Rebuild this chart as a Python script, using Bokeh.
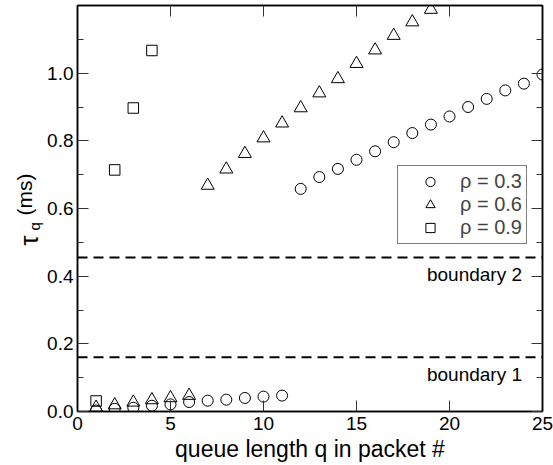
import math
from bokeh.plotting import figure
from bokeh.layouts import row
from bokeh.models import Range1d, LinearAxis, FixedTicker, Span, Label, Legend, LegendItem
from bokeh.embed import file_html
from bokeh.resources import INLINE

# ---------------- data ----------------
q_rho03 = list(range(1, 26))
tau_rho03 = [0.003, 0.008, 0.011, 0.017, 0.021, 0.028, 0.032, 0.035, 0.040, 0.044, 0.047,
             0.658, 0.693, 0.717, 0.744, 0.769, 0.796, 0.823, 0.848, 0.872, 0.900,
             0.924, 0.949, 0.969, 0.996]
q_rho06 = list(range(1, 20))
tau_rho06 = [0.012, 0.019, 0.027, 0.034, 0.040, 0.047,
             0.668, 0.716, 0.762, 0.808, 0.852, 0.897, 0.941, 0.983, 1.028,
             1.068, 1.111, 1.151, 1.188]
q_rho09 = [1, 2, 3, 4]
tau_rho09 = [0.031, 0.714, 0.897, 1.067]

series_labels = ["\u03c1 = 0.3", "\u03c1 = 0.6", "\u03c1 = 0.9"]
boundaries = [0.16, 0.455]
boundary_labels = ["boundary 1", "boundary 2"]

x_ticks = [0, 5, 10, 15, 20, 25]
y_ticks = [0.0, 0.2, 0.4, 0.6, 0.8, 1.0]
y_minor_ticks = [0.1, 0.3, 0.5, 0.7, 0.9, 1.1]

x_title = "queue length q in packet #"

FONT = "Liberation Sans"

# ---------------- main figure ----------------
p = figure(width=509, height=465, output_backend="svg", toolbar_location=None,
           x_range=Range1d(0, 25), y_range=Range1d(0, 1.2),
           min_border_left=33, min_border_right=11, min_border_top=5, min_border_bottom=54,
           background_fill_color="white", border_fill_color="white")
p.grid.visible = False
p.outline_line_color = "black"
p.outline_line_width = 1.5

def style_axis(ax, ticks, minor, show_labels):
    ax.ticker = FixedTicker(ticks=ticks, minor_ticks=minor)
    ax.axis_line_color = "black"
    ax.axis_line_width = 1.5
    ax.major_tick_in = 11
    ax.major_tick_out = 0
    ax.minor_tick_in = 6
    ax.minor_tick_out = 0
    ax.major_tick_line_color = "#333333"
    ax.minor_tick_line_color = "#333333"
    ax.major_tick_line_width = 1
    ax.minor_tick_line_width = 1
    if show_labels:
        ax.major_label_text_font = FONT
        ax.major_label_text_font_size = "19px"
        ax.major_label_text_color = "black"
        ax.major_label_standoff = 4
    else:
        ax.major_label_text_font_size = "1px"
        ax.major_label_text_alpha = 0
        ax.major_label_standoff = 0

style_axis(p.xaxis[0], x_ticks, [], True)
style_axis(p.yaxis[0], y_ticks, y_minor_ticks, True)
p.xaxis[0].major_label_standoff = 5
p.yaxis[0].major_label_overrides = {t: f"{t:.1f}" for t in y_ticks}

p.xaxis[0].axis_label = x_title
p.xaxis[0].axis_label_text_font = FONT
p.xaxis[0].axis_label_text_font_size = "23px"
p.xaxis[0].axis_label_text_font_style = "normal"
p.xaxis[0].axis_label_text_color = "black"
p.xaxis[0].axis_label_standoff = 3

top_ax = LinearAxis()
style_axis(top_ax, x_ticks, [], False)
p.add_layout(top_ax, "above")
right_ax = LinearAxis()
style_axis(right_ax, y_ticks, y_minor_ticks, False)
p.add_layout(right_ax, "right")

# ---------------- boundaries ----------------
for b, txt in zip(boundaries, boundary_labels):
    p.add_layout(Span(location=b, dimension="width", line_color="black",
                      line_width=2, line_dash="10 6"))
    p.add_layout(Label(x=23.9, y=b, y_offset=-17, text=txt, text_align="right",
                       text_baseline="middle", text_font=FONT, text_font_size="19px",
                       text_color="black"))

# ---------------- series ----------------
r1 = p.scatter(q_rho03, tau_rho03, marker="circle", size=11, fill_color=None,
               line_color="black", line_width=1)
r2 = p.scatter(q_rho06, tau_rho06, marker="triangle", size=13, fill_color=None,
               line_color="black", line_width=1)
r3 = p.scatter(q_rho09, tau_rho09, marker="square", size=10.5, fill_color=None,
               line_color="black", line_width=1)

legend = Legend(items=[LegendItem(label=series_labels[0], renderers=[r1]),
                       LegendItem(label=series_labels[1], renderers=[r2]),
                       LegendItem(label=series_labels[2], renderers=[r3])],
                location=(320, 167), orientation="vertical",
                label_text_font=FONT, label_text_font_size="20px",
                label_text_line_height=1.0,
                glyph_width=56, glyph_height=23, label_height=23, spacing=-2,
                padding=4, margin=0, label_standoff=2,
                border_line_color="black", border_line_width=1,
                background_fill_color="white", background_fill_alpha=1.0)
p.add_layout(legend, "center")

# ---------------- y-axis title (separate strip, for the subscript) ----------------
# the strip's frame is aligned with the main frame (bottom at the x axis)
ylab = figure(width=44, height=465, output_backend="svg", toolbar_location=None,
              x_range=Range1d(0, 44), y_range=Range1d(0, 1.2),
              x_axis_type=None, y_axis_type=None,
              min_border=0, min_border_left=0, min_border_right=0,
              min_border_top=0, min_border_bottom=0,
              background_fill_color="white", border_fill_color="white")
ylab.outline_line_color = None
ylab.grid.visible = False
half_pi = math.pi / 2
ylab.add_layout(Label(x=28, y=166, x_units="screen", y_units="screen", angle=half_pi,
                      text="\u03c4", text_align="left", text_baseline="alphabetic",
                      text_font=FONT, text_font_size="25px", text_color="black"))
ylab.add_layout(Label(x=33.5, y=181, x_units="screen", y_units="screen", angle=half_pi,
                      text="q", text_align="left", text_baseline="alphabetic",
                      text_font=FONT, text_font_size="15px", text_color="black"))
ylab.add_layout(Label(x=24, y=196, x_units="screen", y_units="screen", angle=half_pi,
                      text="(ms)", text_align="left", text_baseline="alphabetic",
                      text_font=FONT, text_font_size="21px", text_color="black"))

layout = row(ylab, p, spacing=0)
open("out.html", "w").write(file_html(layout, INLINE))
